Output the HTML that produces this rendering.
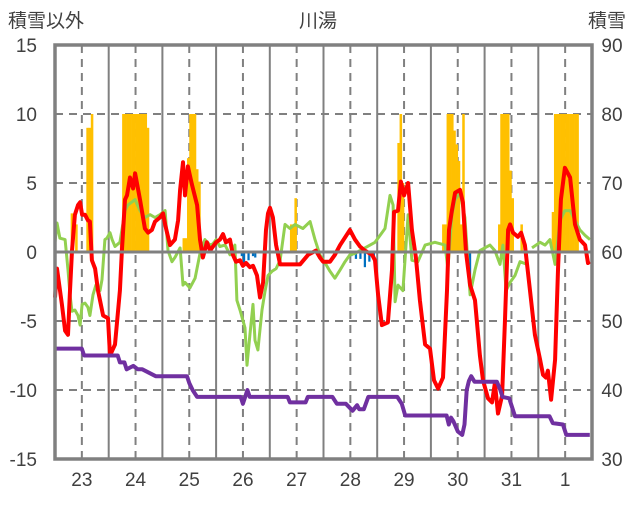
<!DOCTYPE html>
<html><head><meta charset="utf-8">
<style>
body{margin:0;background:#fff;}
svg text{font-family:"Liberation Sans","Noto Sans CJK JP",sans-serif;fill:#404040;}
</style></head>
<body>
<svg id="chart" width="636" height="501" viewBox="0 0 636 501" xmlns="http://www.w3.org/2000/svg">
<text x="8" y="27" font-size="19">積雪以外</text>
<text x="318" y="27" font-size="19" text-anchor="middle">川湯</text>
<text x="588" y="27" font-size="19">積雪</text>
<g id="grid"></g>
<g id="bars"></g>
<g id="lines"></g>
<g id="frame"></g>
<g id="labels"></g>
</svg>
<script>
const dayLabels=["23","24","25","26","27","28","29","30","31","1"];
const leftTicks=[15,10,5,0,-5,-10,-15];
const rightTicks=[90,80,70,60,50,40,30];
const redHours=[0,0.9,3.1,4.5,5.8,6.7,7.6,8.9,10.3,11.2,12.1,13.4,14.7,15.6,16.5,17.9,19.2,20.1,21.5,23.7,24.6,26.8,29,29.9,31.3,32.2,33.5,34.9,35.8,38,40.2,41.6,43.3,44.7,46.9,48.3,49.2,51.4,53.6,55,55.9,57.2,58.1,59.4,61.2,63.5,64.8,66.1,67.9,69.3,70.6,72,73.7,75.1,76.4,78.2,79.5,80.9,82.7,84,85.4,87.1,88.5,90.3,91.6,93,94.3,95.2,96.1,97.4,98.8,100.6,102.8,105,109.5,113.1,116.6,118.4,119.8,122.9,125.1,127.4,131.8,134.1,136.3,138.5,141.7,143,144.4,146.1,148.8,150.6,151.5,153.3,154.6,156,157.8,159.5,161.3,163.1,165.4,167.6,169.4,171.2,173.4,175.2,176.1,177.4,178.8,181,182.3,183.7,185.5,187.7,189.9,191.3,193.5,195.3,196.6,198,199.8,201.1,202.5,203.4,204.7,206.9,208.3,210,212.3,214.5,216.8,218.1,219.4,220.3,221.7,223.5,224.8,226.1,227.9,230.2,232.4,234.6,236.9,238.2,239.1];
const redVals=[-3.3,-1.2,-3.8,-5.7,-6,-2.8,0.1,2.7,3.4,3.6,2.7,2.7,2.3,2.2,-0.6,-1.2,-2.8,-3.5,-4.6,-4.8,-7.5,-6.7,-2.8,0.1,3.8,4.1,5.4,4.6,5.7,3.8,1.7,1.4,1.6,2.2,2.5,2.8,2,0.5,0.9,2.3,4.5,6.5,4.1,6.2,4.9,3.4,0.9,-0.4,0.7,0.1,0.4,0.7,0.9,1.3,0.7,0.9,-0.2,-0.7,-0.6,-1,-0.8,-1.1,-1,-1.7,-3.3,-2.2,1.6,2.8,3.2,2.5,0.5,-0.9,-0.9,-0.9,-0.9,-0.2,0.1,-0.4,-0.7,-0.7,-0.2,0.5,1.6,0.9,0.4,0.1,-0.2,-0.6,-3.1,-5.3,-5.1,-1.3,2.9,3,5.1,4.1,5,1.6,-0.4,-3.5,-6.7,-7,-9.3,-9.9,-9.1,-2.8,1.6,3,4.3,4.5,3.6,0,-2.4,-3.5,-7.5,-9.3,-10.6,-10.9,-9.5,-11.7,-10.4,-4.9,1.6,2,1.4,1.1,1.4,0.5,-2.8,-6,-7.8,-8.9,-9.1,-8.6,-10.7,-7.8,-1.3,3.8,6.1,5.4,2,0.9,0.5,-0.8,-0.7];
const greenHours=[0,0.9,2.2,4.5,5.8,6.7,7.6,8.9,10.3,11.2,12.1,13.4,14.7,15.6,17,18.3,20.1,21,22.3,23.2,24.6,25.5,26.8,29,31.3,32.6,35.8,38,40.2,42.5,44.7,46.9,49.2,50.5,52.3,53.6,55.9,57.2,58.1,60.3,62.6,64.8,67,69.3,70.6,72,73.7,76,78.2,80.4,81.3,82.7,84.9,85.8,87.1,88.5,89.4,90.7,92.5,93.8,95.2,97,98.8,100.6,102.8,105,107.3,110.8,114,116.2,118.4,120.7,122.9,125.1,127.4,129.6,131.8,134.1,136.3,138.5,143,147.5,149.7,151.1,152,153.3,155.5,157.8,159.5,162.2,165.4,169.8,174.3,175.6,177.4,178.8,181,183.2,185.5,187.7,189.9,194.4,196.6,198.9,200.2,201.6,203.4,205.6,207.8,211,212,213.2,216.8,219,221.2,223.5,225.7,227.9,230.2,232.4,234.6,236.9,239.1];
const greenVals=[0.7,2.1,1,0.9,-1.3,-3.1,-4.3,-4.2,-4.6,-5.3,-3.8,-3.7,-4,-4.6,-3.1,-2.4,-2.8,-2,0.9,1,1.4,0.9,0.4,0.7,3,3.4,3.8,3,2.5,2.7,2.5,2.7,3,0.1,-0.7,-0.4,0.3,-2.4,-2.2,-2.6,-1.9,-0.1,0.9,0.5,0.6,0.9,0.4,0.5,-0.2,0.5,-3.5,-4.2,-5.5,-8.2,-6,-3.8,-6.4,-7.1,-4.2,-2.9,-1.7,-1.4,-1.2,-0.6,2,1.7,2,1.7,2.2,0.9,-0.2,-0.8,-1.4,-1.9,-1.3,-0.7,-0.2,-0.1,0.1,0.3,0.7,1.7,4.1,3.4,-3.6,-2.4,-2.8,2.7,-0.6,-0.7,0.5,0.7,0.5,-1.2,2.7,3.8,4.3,2.5,-3.1,-1.3,0.1,0.5,0.1,-0.9,0.5,-2.8,-2.2,-1.7,-0.7,-0.9,null,0.3,0.7,0.5,0.9,-0.9,2.3,3,3,2.3,1.6,1.2,0.9];
const snowDepthHours=[0,12,13,28,29,31,32,35,37,39,45,59,60,61.5,63.5,83,84,85,86,87,104,105,112,113,124,126,130,133,135,136,138,140,153,155,156.5,175,176,177,178,180,182,183,184,185,186,187.5,197.5,199,200,203,205.6,221,222.5,227,228.5,239];
const snowDepthVals=[46,46,45,45,44,44,43,43.5,43,43,42,42,41,40,39,39,38,39,40,39,39,38.2,38.2,39,39,38,38,37,37.8,37.2,37.2,39,39,38,36.3,36.3,35,36,35.5,34,33.5,35,40,41.3,42,41.2,41.2,40,39,38.8,36.2,36.2,35.2,35,33.5,33.5];
const snowfallHours=[7,9,14,15,16,29,30,31,32,33,34,35,36,37,38,39,40,41,57,58,59,60,61,62,63,64,105,106,107,153,154,155,173,174,175,176,177,178,179,180,181,182,198,199,200,201,202,203,204,208,222,223,224,225,226,227,228,229,230,231,232,233];
const snowfallVals=[2.8,2,9,9,10,0.9,10,10,10,10,10,10,10,10,10,10,10,9,1,1,6.8,10,10,10,6,5.1,2,2,3.9,7.9,10,5,2,2,10,10,10,8.8,7.8,6.6,2,10,2,10,10,10,10,5.9,3.9,2,2.9,10,10,10,10,10,10,10,10,10,10,10];
const meltHours=[83,84,86,88,89,132,134,136,138,140,142,184,185];
const meltVals=[-0.3,-0.9,-0.6,-0.3,-0.4,-0.3,-0.5,-0.5,-1.1,-0.7,-0.4,-0.3,-2.5];

const L=55,R=592,T=45,B=459,HOURS=240;
const X=h=>L+h*(R-L)/HOURS;
const YL=v=>T+(15-v)*(B-T)/30;
const YR=v=>T+(90-v)*(B-T)/60;
const NS="http://www.w3.org/2000/svg";
function mk(tag,parent){const e=document.createElementNS(NS,tag);document.getElementById(parent).appendChild(e);return e;}

// grid
leftTicks.forEach(t=>{
  if(t===15||t===-15||t===0)return;
  const g=mk('line','grid');
  
  
  g.setAttribute('x1',L);g.setAttribute('x2',R);g.setAttribute('y1',YL(t));g.setAttribute('y2',YL(t));
  g.setAttribute('stroke','#808080');g.setAttribute('stroke-width','2');g.setAttribute('stroke-dasharray','8,6');
});
dayLabels.forEach((d,i)=>{
  const c=mk('line','grid');
  
  
  c.setAttribute('x1',X(i*24+12));c.setAttribute('x2',X(i*24+12));c.setAttribute('y1',T);c.setAttribute('y2',B);
  c.setAttribute('stroke','#808080');c.setAttribute('stroke-width','2');c.setAttribute('stroke-dasharray','8,6');
  if(i>0){
    const s=mk('line','grid');
    
    
    s.setAttribute('x1',X(i*24));s.setAttribute('x2',X(i*24));s.setAttribute('y1',T);s.setAttribute('y2',B);
    s.setAttribute('stroke','#808080');s.setAttribute('stroke-width','2');
  }
  const tx=mk('text','labels');
  
  
  tx.setAttribute('x',X(i*24+12));tx.setAttribute('y',486);tx.setAttribute('font-size','19');tx.setAttribute('text-anchor','middle');
  tx.textContent=d;
});
leftTicks.forEach(t=>{
  const tx=mk('text','labels');
  
  
  tx.setAttribute('x',37);tx.setAttribute('y',YL(t)+7);tx.setAttribute('font-size','19');tx.setAttribute('text-anchor','end');
  tx.textContent=t;
});
rightTicks.forEach(t=>{
  const tx=mk('text','labels');
  
  
  tx.setAttribute('x',612);tx.setAttribute('y',YR(t)+7);tx.setAttribute('font-size','19');tx.setAttribute('text-anchor','middle');
  tx.textContent=t;
});
// bars
const bw=(R-L)/HOURS;
snowfallHours.forEach((h,i)=>{
  const v=snowfallVals[i];
  const r=mk('rect','bars');
  
  
  r.setAttribute('x',X(h));r.setAttribute('width',bw+0.3);r.setAttribute('y',YL(v));r.setAttribute('height',YL(0)-YL(v));
  r.setAttribute('fill','#ffc000');
});
meltHours.forEach((h,i)=>{
  const v=meltVals[i];
  const r=mk('rect','bars');
  
  
  r.setAttribute('x',X(h));r.setAttribute('width',bw);r.setAttribute('y',YL(0));r.setAttribute('height',YL(v)-YL(0));
  r.setAttribute('fill','#0070c0');
});
// lines
function path(hs,vs,yf){let d='',pen=false;hs.forEach((h,i)=>{const v=vs[i];if(v===null){pen=false;return;}d+=(pen?'L':'M')+X(h).toFixed(1)+' '+yf(v).toFixed(1)+' ';pen=true;});return d;}
const gp=mk('path','lines');


gp.setAttribute('d',path(greenHours,greenVals,YL));gp.setAttribute('fill','none');gp.setAttribute('stroke','#92d050');gp.setAttribute('stroke-width','3');gp.setAttribute('stroke-linejoin','round');
const rp=mk('path','lines');


rp.setAttribute('d',path(redHours,redVals,YL));rp.setAttribute('fill','none');rp.setAttribute('stroke','#ff0000');rp.setAttribute('stroke-width','4');rp.setAttribute('stroke-linejoin','round');
const pp=mk('path','lines');


pp.setAttribute('d',path(snowDepthHours,snowDepthVals,YR));pp.setAttribute('fill','none');pp.setAttribute('stroke','#7030a0');pp.setAttribute('stroke-width','4');pp.setAttribute('stroke-linejoin','round');
// frame
const z=mk('line','frame');


z.setAttribute('x1',L);z.setAttribute('x2',R);z.setAttribute('y1',YL(0));z.setAttribute('y2',YL(0));z.setAttribute('stroke','#808080');z.setAttribute('stroke-width','3');
const f=mk('rect','frame');


f.setAttribute('x',L);f.setAttribute('y',T);f.setAttribute('width',R-L);f.setAttribute('height',B-T);f.setAttribute('fill','none');f.setAttribute('stroke','#808080');f.setAttribute('stroke-width','3.5');
</script>
</body></html>
